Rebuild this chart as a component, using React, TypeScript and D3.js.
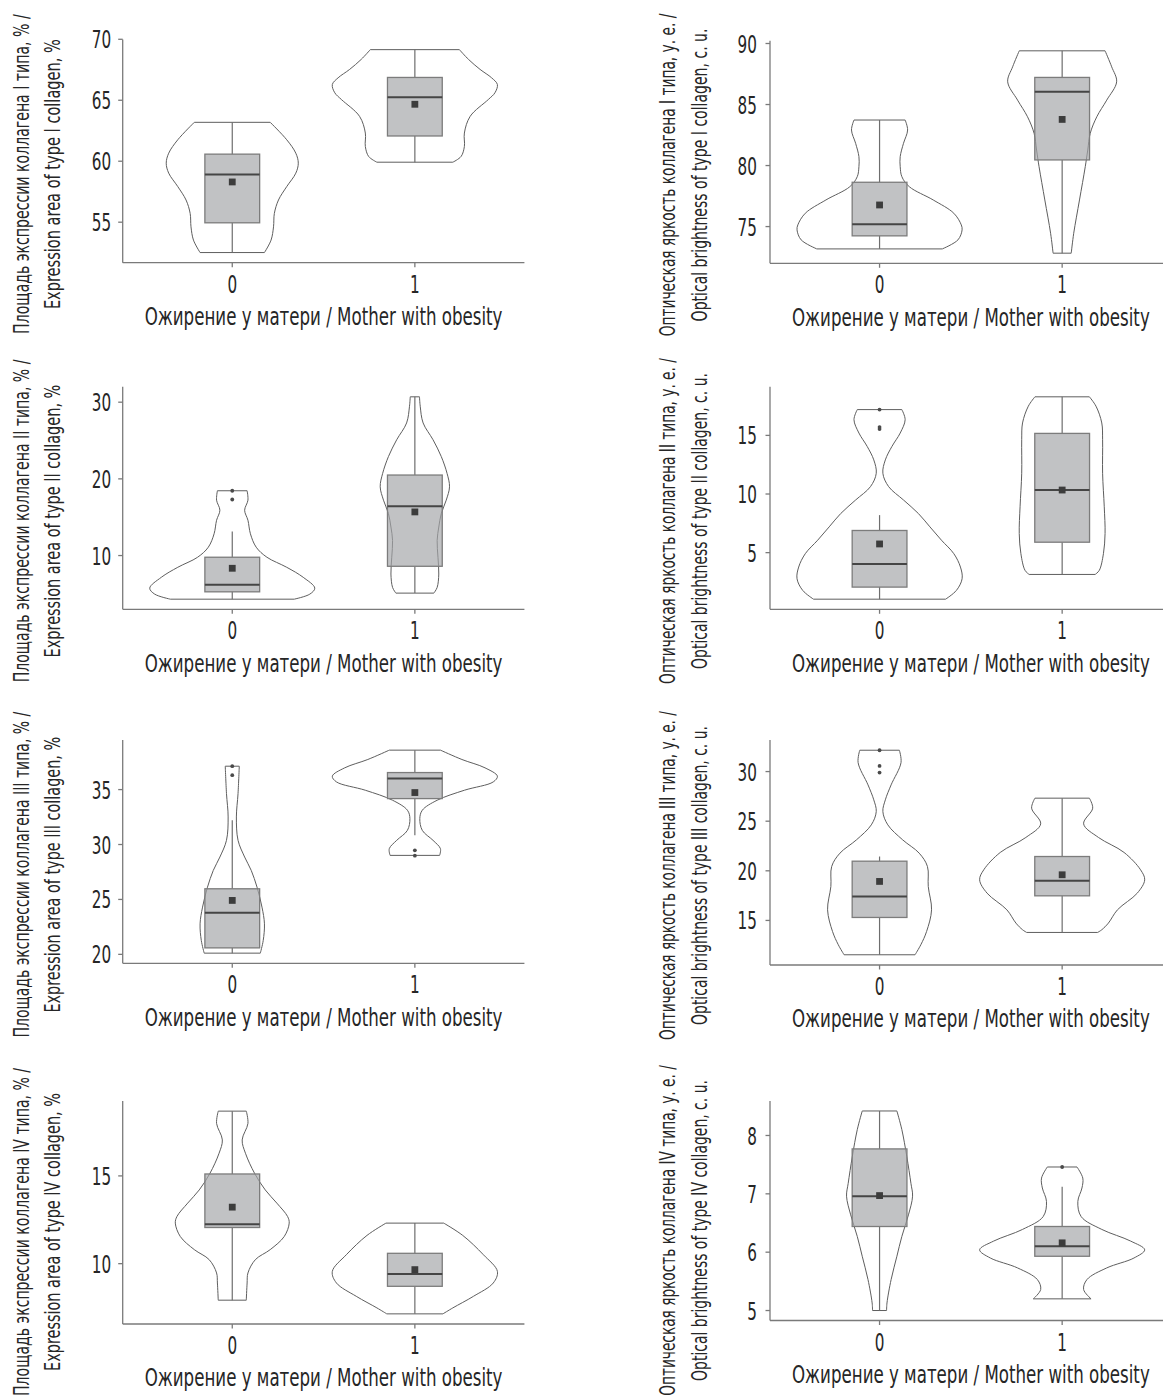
import React, { useLayoutEffect, useRef, useState } from 'react';
import * as d3 from 'd3';

// ---------- DATA ----------
const groups = [0, 1];
const groupLabels = ['0', '1'];
const xTitle = 'Ожирение у матери / Mother with obesity';

const yTitleLine1 = [
  'Площадь экспрессии коллагена I типа, % /',
  'Оптическая яркость коллагена I типа, у. е. /',
  'Площадь экспрессии коллагена II типа, % /',
  'Оптическая яркость коллагена II типа, у. е. /',
  'Площадь экспрессии коллагена III типа, % /',
  'Оптическая яркость коллагена III типа, у. е. /',
  'Площадь экспрессии коллагена IV типа, % /',
  'Оптическая яркость коллагена IV типа, у. е. /',
];
const yTitleLine2 = [
  'Expression area of type I collagen, %',
  'Optical brightness of type I collagen, c. u.',
  'Expression area of type II collagen, %',
  'Optical brightness of type II collagen, c. u.',
  'Expression area of type III collagen, %',
  'Optical brightness of type III collagen, c. u.',
  'Expression area of type IV collagen, %',
  'Optical brightness of type IV collagen, c. u.',
];

const yTicks = [
  [55, 60, 65, 70],
  [75, 80, 85, 90],
  [10, 20, 30],
  [5, 10, 15],
  [20, 25, 30, 35],
  [15, 20, 25, 30],
  [10, 15],
  [5, 6, 7, 8],
];

// Violin outlines: [value, relative half-width]
const violinAreaI_0 = [[63.19, .46], [61.76, .66], [60.66, .77], [59.84, .80], [59.02, .77], [57.92, .66], [56.82, .56], [55.72, .51], [54.62, .50], [53.53, .47], [52.51, .39]];
const violinAreaI_1 = [[69.15, .54], [68.35, .65], [67.53, .79], [66.84, .93], [66.29, 1.0], [65.61, .97], [65.06, .89], [63.68, .67], [62.31, .60], [61.21, .60], [60.39, .56], [59.92, .46]];
const violinBrightI_0 = [[83.73, .31], [82.91, .34], [81.82, .29], [80.73, .25], [79.91, .25], [79.09, .27], [78.27, .36], [77.18, .65], [76.09, .90], [75.14, .99], [74.73, 1.0], [73.91, .95], [73.17, .76]];
const violinBrightI_1 = [[89.40, .52], [88.09, .60], [86.86, .66], [85.36, .54], [84.0, .42], [82.64, .34], [81.27, .31], [79.91, .28], [77.18, .21], [74.45, .14], [72.82, .11]];
const violinAreaII_0 = [[18.45, .18], [17.22, .19], [15.91, .15], [14.60, .19], [12.84, .22], [11.09, .29], [9.78, .42], [8.47, .66], [7.16, .86], [5.75, 1.0], [4.97, .94], [4.31, .75]];
const violinAreaII_1 = [[30.70, .056], [29.47, .065], [27.29, .10], [25.10, .22], [22.91, .32], [20.72, .39], [18.97, .42], [17.22, .38], [15.47, .32], [13.72, .29], [11.97, .27], [9.78, .28], [7.59, .29], [5.84, .27], [5.10, .23]];
const violinBrightII_0 = [[17.20, .27], [16.34, .31], [15.20, .25], [14.06, .15], [12.91, .07], [11.77, .04], [10.63, .11], [9.49, .29], [8.34, .47], [7.20, .61], [6.06, .75], [4.91, .90], [3.77, .98], [2.77, 1.0], [1.77, .93], [1.03, .80]];
const violinBrightII_1 = [[18.29, .33], [17.49, .41], [16.06, .48], [14.63, .49], [11.77, .49], [8.91, .51], [6.63, .52], [4.91, .50], [3.49, .45], [3.14, .40]];
const violinAreaIII_0 = [[37.13, .085], [34.64, .07], [32.51, .05], [30.38, .07], [28.86, .15], [27.64, .23], [26.12, .30], [24.30, .36], [22.78, .39], [21.26, .375], [20.11, .34]];
const violinAreaIII_1 = [[38.59, .31], [37.74, .57], [36.98, .85], [36.22, 1.0], [35.70, .95], [34.94, .60], [34.03, .27], [33.12, .09], [32.36, .06], [31.29, .09], [30.38, .22], [29.62, .31], [29.01, .30]];
const violinBrightIII_0 = [[32.15, .24], [30.91, .26], [28.66, .14], [27.15, .07], [25.97, .04], [24.63, .10], [23.12, .28], [21.78, .48], [20.44, .58], [18.42, .59], [16.07, .63], [13.89, .57], [12.55, .50], [11.54, .43]];
const violinBrightIII_1 = [[27.32, .33], [26.31, .37], [24.73, .26], [23.36, .44], [21.85, .75], [20.10, .95], [19.09, 1.0], [17.75, .91], [16.07, .67], [14.73, .56], [14.06, .48], [13.79, .43]];
const violinAreaIV_0 = [[18.69, .17], [17.99, .19], [17.05, .12], [16.29, .16], [15.15, .27], [14.20, .40], [13.45, .54], [12.69, .67], [12.31, .69], [11.55, .63], [10.80, .46], [10.23, .28], [9.47, .19], [8.90, .18], [7.92, .17]];
const violinAreaIV_1 = [[12.31, .35], [11.61, .58], [10.51, .83], [9.56, 1.0], [8.90, .95], [8.14, .71], [7.48, .46], [7.14, .34]];
const violinBrightIV_0 = [[8.42, .21], [8.10, .27], [7.64, .33], [7.18, .38], [6.96, .40], [6.64, .35], [6.27, .27], [5.93, .21], [5.53, .14], [5.13, .09], [5.00, .085]];
const violinBrightIV_1 = [[7.46, .18], [7.27, .25], [7.10, .24], [6.87, .19], [6.61, .23], [6.39, .48], [6.19, .83], [6.04, 1.0], [5.90, .87], [5.73, .54], [5.53, .30], [5.36, .26], [5.20, .35]];

// Box stats: [whiskerLow, q1, median, q3, whiskerHigh, mean]
const boxAreaI = [[52.51, 54.95, 58.91, 60.58, 63.19, 58.30], [59.92, 62.07, 65.25, 66.87, 69.15, 64.67]];
const boxBrightI = [[73.17, 74.24, 75.19, 78.63, 83.73, 76.77], [72.82, 80.46, 86.05, 87.22, 89.40, 83.78]];
const boxAreaII = [[4.31, 5.27, 6.19, 9.78, 13.15, 8.34], [5.10, 8.60, 16.43, 20.50, 30.70, 15.69]];
const boxBrightII = [[1.03, 2.06, 4.03, 6.89, 8.20, 5.74], [3.14, 5.89, 10.34, 15.17, 18.29, 10.34]];
const boxAreaIII = [[20.11, 20.59, 23.78, 25.97, 32.20, 24.91], [30.84, 34.18, 36.00, 36.55, 38.59, 34.73]];
const boxBrightIII = [[11.54, 15.30, 17.42, 20.97, 21.44, 18.93], [13.79, 17.48, 18.99, 21.44, 27.32, 19.60]];
const boxAreaIV = [[7.92, 12.06, 12.25, 15.11, 18.69, 13.22], [7.14, 8.71, 9.41, 10.59, 12.31, 9.66]];
const boxBrightIV = [[5.00, 6.44, 6.96, 7.77, 8.42, 6.97], [5.20, 5.93, 6.10, 6.44, 7.12, 6.16]];

const outliersAreaI = [[], []];
const outliersBrightI = [[], []];
const outliersAreaII = [[17.31, 18.45], []];
const outliersBrightII = [[15.54, 15.71, 17.20], []];
const outliersAreaIII = [[36.31, 37.13], [28.98, 29.47]];
const outliersBrightIII = [[29.90, 30.57, 32.15], []];
const outliersAreaIV = [[], []];
const outliersBrightIV = [[], [7.46]];

const violins = [
  [violinAreaI_0, violinAreaI_1], [violinBrightI_0, violinBrightI_1],
  [violinAreaII_0, violinAreaII_1], [violinBrightII_0, violinBrightII_1],
  [violinAreaIII_0, violinAreaIII_1], [violinBrightIII_0, violinBrightIII_1],
  [violinAreaIV_0, violinAreaIV_1], [violinBrightIV_0, violinBrightIV_1],
];
const boxes = [boxAreaI, boxBrightI, boxAreaII, boxBrightII, boxAreaIII, boxBrightIII, boxAreaIV, boxBrightIV];
const outliers = [outliersAreaI, outliersBrightI, outliersAreaII, outliersBrightII, outliersAreaIII, outliersBrightIII, outliersAreaIV, outliersBrightIV];

// ---------- LAYOUT ----------
const W = 1163, H = 1398;
const BAND = 182.6;
const layout = [
  { x: 122.7, top: 39.5, bottom: 262.7 },
  { x: 770, top: 40.7, bottom: 263.3 },
  { x: 122.7, top: 386.7, bottom: 609.3 },
  { x: 770, top: 386.7, bottom: 609.3 },
  { x: 122.7, top: 740, bottom: 963.3 },
  { x: 770, top: 740, bottom: 965 },
  { x: 122.7, top: 1101, bottom: 1324 },
  { x: 770, top: 1101, bottom: 1320.5 },
];
const FONT = "'Liberation Sans Narrow', 'DejaVu Sans Condensed', 'Arial Narrow', 'Roboto', sans-serif";
const TEXT = '#262626';
const AXIS = '#7a7a7a';

// Text that is squeezed horizontally (in its own frame) to a target length
function FitText(props: {
  tx: number; ty: number; rotate?: number; target: number; anchor: string;
  fontSize: number; dy?: string; children: string;
}) {
  const { tx, ty, rotate = 0, target, anchor, fontSize, dy, children } = props;
  const ref = useRef<SVGTextElement>(null);
  const [sx, setSx] = useState(1);
  useLayoutEffect(() => {
    const el = ref.current;
    if (el) {
      const len = el.getComputedTextLength();
      if (len > 0) setSx(target / len);
    }
  }, [target, children, fontSize]);
  return (
    <text ref={ref} transform={`translate(${tx},${ty}) rotate(${rotate}) scale(${sx},1)`}
      x={0} y={0} dy={dy} textAnchor={anchor} fontFamily={FONT} fontSize={fontSize} fill={TEXT}>
      {children}
    </text>
  );
}

function Panel({ i }: { i: number }) {
  const L = layout[i];
  const left = i % 2 === 0;
  const allVals: number[] = [];
  violins[i].forEach((v) => v.forEach((d) => allVals.push(d[0])));
  boxes[i].forEach((b) => b.forEach((d) => allVals.push(d)));
  outliers[i].forEach((o) => o.forEach((d) => allVals.push(d)));
  const [mn, mx] = d3.extent(allVals) as [number, number];
  const pad = (mx - mn) * 0.05;
  const y = d3.scaleLinear().domain([mn - pad, mx + pad]).range([L.bottom, L.top]);
  const x = d3.scaleLinear().domain([-0.6, 1.6]).range([L.x, L.x + 2.2 * BAND]);
  const unit = x(1) - x(0);
  const labelGap = left ? 11.5 : 13;
  const extra = i < 2 ? 0 : i < 4 ? 3 : i < 6 ? 6 : 8;
  const l1Len = (left ? 320 : 323) + extra;
  const l2Len = (left ? 270 : 293) + extra;
  const titleCenter = Math.min((L.top + L.bottom) / 2 + 23, H - l1Len / 2 - 2);
  const b1 = left ? 29 : 675;
  const b2 = left ? 59.5 : 707;

  return (
    <g>
      {/* violins */}
      {groups.map((g) => {
        const area = d3.area<number[]>()
          .y((d) => y(d[0]))
          .x0((d) => x(g) - d[1] * 0.452 * unit)
          .x1((d) => x(g) + d[1] * 0.452 * unit)
          .curve(d3.curveCatmullRom.alpha(0.5));
        return <path key={'v' + g} d={area(violins[i][g] as number[][]) || ''} fill="#ffffff" stroke="#5e5e5e" strokeWidth={1} />;
      })}
      {/* boxes */}
      {groups.map((g) => {
        const [lo, q1, med, q3, hi, mean] = boxes[i][g];
        const cx = x(g);
        const hw = 0.15 * unit;
        return (
          <g key={'b' + g}>
            <line x1={cx} x2={cx} y1={y(hi)} y2={y(q3)} stroke="#6e6e6e" strokeWidth={1.2} />
            <line x1={cx} x2={cx} y1={y(q1)} y2={y(lo)} stroke="#6e6e6e" strokeWidth={1.2} />
            <rect x={cx - hw} y={y(q3)} width={2 * hw} height={y(q1) - y(q3)} fill="#a3a5a8" fillOpacity={0.68} stroke="#7c7c7c" strokeWidth={1.3} />
            <line x1={cx - hw} x2={cx + hw} y1={y(med)} y2={y(med)} stroke="#454545" strokeWidth={2} />
            {outliers[i][g].map((o, k) => (
              <circle key={k} cx={cx} cy={y(o)} r={1.9} fill="#4a4a4a" />
            ))}
            <rect x={cx - 3.4} y={y(mean) - 3.4} width={6.8} height={6.8} fill="#3c3c3c" />
          </g>
        );
      })}
      {/* axes */}
      <line x1={L.x} x2={L.x} y1={L.top} y2={L.bottom} stroke={AXIS} strokeWidth={1.3} />
      <line x1={L.x} x2={x(1.6)} y1={L.bottom} y2={L.bottom} stroke={AXIS} strokeWidth={1.3} />
      {yTicks[i].map((t) => (
        <g key={t}>
          <line x1={L.x - 4.5} x2={L.x} y1={y(t)} y2={y(t)} stroke={AXIS} strokeWidth={1.3} />
          <FitText tx={L.x - labelGap} ty={y(t)} dy="0.36em" anchor="end" fontSize={25}
            target={9.7 * String(t).length}>{String(t)}</FitText>
        </g>
      ))}
      {groups.map((g) => (
        <g key={'xt' + g}>
          <line x1={x(g)} x2={x(g)} y1={L.bottom} y2={L.bottom + 4.5} stroke={AXIS} strokeWidth={1.3} />
          <FitText tx={x(g)} ty={L.bottom + 30} anchor="middle" fontSize={24} target={9.7}>{groupLabels[g]}</FitText>
        </g>
      ))}
      <FitText tx={(x(-0.6) + x(1.6)) / 2} ty={L.bottom + 62.3} anchor="middle" fontSize={24} target={358}>{xTitle}</FitText>
      <FitText tx={b1} ty={titleCenter} rotate={-90} anchor="middle" fontSize={21} target={l1Len}>{yTitleLine1[i]}</FitText>
      <FitText tx={b2} ty={titleCenter} rotate={-90} anchor="middle" fontSize={21} target={l2Len}>{yTitleLine2[i]}</FitText>
    </g>
  );
}

export default function App() {
  return (
    <svg width={W} height={H} viewBox={`0 0 ${W} ${H}`}
      style={{ position: 'absolute', left: 0, top: 0, background: '#fff', display: 'block' }}>
      <rect x={0} y={0} width={W} height={H} fill="#fff" />
      {d3.range(8).map((i) => <Panel key={i} i={i} />)}
    </svg>
  );
}
